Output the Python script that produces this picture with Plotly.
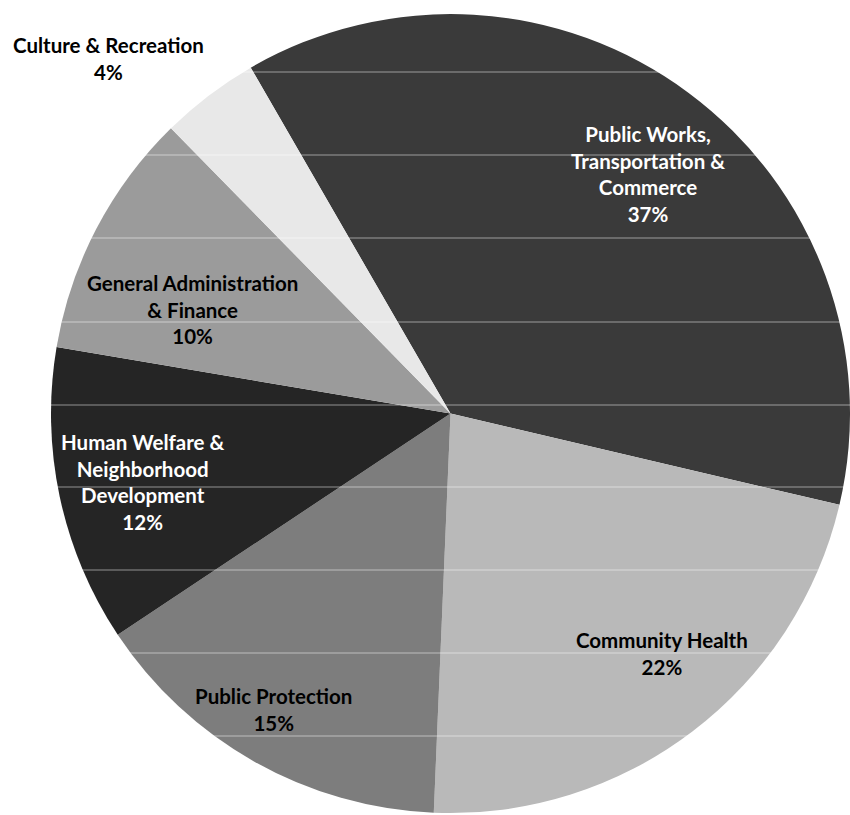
import plotly.graph_objects as go

# Budget shares by service area (percent), listed clockwise from the top
categories = [
    "Public Works,<br>Transportation &<br>Commerce",
    "Community Health",
    "Public Protection",
    "Human Welfare &<br>Neighborhood<br>Development",
    "General Administration<br>& Finance",
    "Culture & Recreation",
]
values = [37, 22, 15, 12, 10, 4]

slice_colors = ["#3a3a3a", "#b9b9b9", "#7d7d7d", "#252525", "#9b9b9b", "#e8e8e8"]
label_colors = ["white", "black", "black", "white", "black", "black"]
# label anchor points in paper coordinates
label_x = [0.762, 0.779, 0.322, 0.168, 0.227, 0.128]
label_y = [0.787, 0.198, 0.130, 0.409, 0.620, 0.928]

W, H = 850, 815

fig = go.Figure(
    go.Pie(
        labels=[c.replace("<br>", " ") for c in categories],
        values=values,
        sort=False,
        direction="clockwise",
        rotation=330,
        marker=dict(colors=slice_colors, line=dict(width=0)),
        textinfo="none",
        hoverinfo="label+percent",
        domain=dict(x=[0.06, 1.0], y=[0.0, 0.985]),
        showlegend=False,
    )
)

for name, v, c, x, y in zip(categories, values, label_colors, label_x, label_y):
    fig.add_annotation(
        x=x, y=y, xref="paper", yref="paper",
        text=f"<b>{name}<br>{v}%</b>",
        showarrow=False,
        font=dict(family="Lato, 'Open Sans', sans-serif", size=20.5, color=c),
        align="center",
        xanchor="center", yanchor="middle",
    )

# faint horizontal streaks across the chart
for yy in [72, 155, 238, 322, 405, 487, 570, 653, 736]:
    fig.add_shape(
        type="line", xref="paper", yref="paper",
        x0=0, x1=1, y0=1 - yy / H, y1=1 - yy / H,
        line=dict(color="rgba(255,255,255,0.5)", width=1),
        layer="above",
    )

fig.update_layout(
    width=W, height=H,
    margin=dict(l=0, r=0, t=0, b=0),
    paper_bgcolor="white",
    plot_bgcolor="white",
)

fig.write_html("out.html")
